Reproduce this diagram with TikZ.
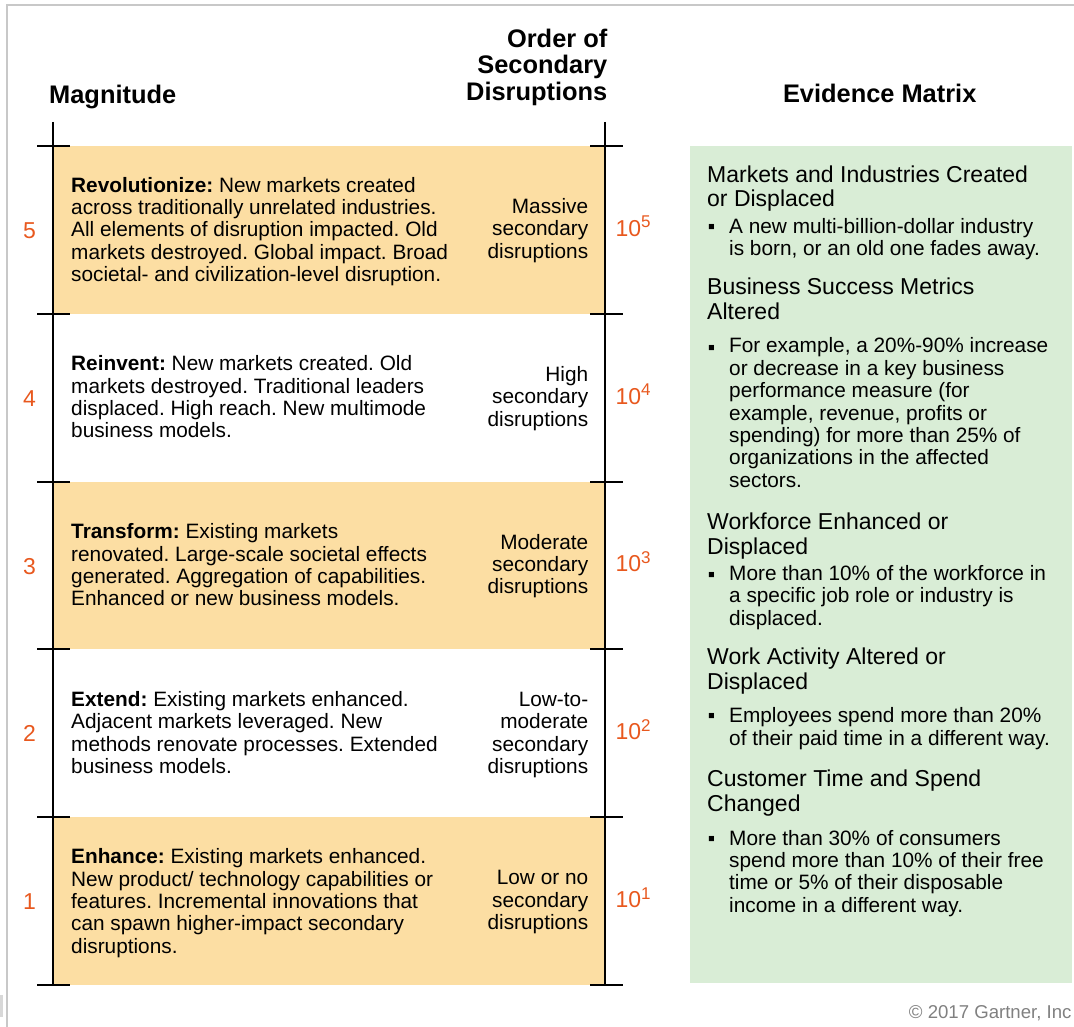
\documentclass[tikz,border=0pt]{standalone}
\usepackage{fontspec}
\setmainfont{Liberation Sans}
\usepackage{tikz}
\usetikzlibrary{positioning}
\usetikzlibrary{calc}
\definecolor{gorange}{RGB}{252,222,163}
\definecolor{ggreen}{RGB}{217,237,214}
\definecolor{gnum}{RGB}{232,88,30}
\definecolor{gframe}{RGB}{200,200,200}
\definecolor{gcopy}{RGB}{128,128,128}
\newcommand{\powten}[1]{10\raisebox{8.3pt}{\fontsize{17pt}{17pt}\selectfont #1}}
\frenchspacing

\begin{document}
\begin{tikzpicture}[x=1pt, y=-1pt,
    band/.style={minimum width=552pt, minimum height=167.4pt, inner sep=0pt, anchor=north west},
    hiband/.style={band, fill=gorange},
    evidence/.style={fill=ggreen, minimum width=382pt, minimum height=837pt, inner sep=0pt, anchor=north west},
    desc/.style={font=\fontsize{20.8pt}{22.4pt}\selectfont, align=left, anchor=base west, inner sep=0pt},
    order/.style={desc, align=right, anchor=base east},
    level/.style={font=\fontsize{23pt}{24pt}\selectfont, text=gnum, inner sep=0pt},
    title/.style={font=\fontsize{25.4pt}{26.7pt}\selectfont\bfseries, inner sep=0pt},
    evhead/.style={font=\fontsize{23pt}{24.6pt}\selectfont, align=left, anchor=base west, inner sep=0pt},
    evitem/.style={desc},
    axis/.style={line width=2pt},
]
\useasboundingbox (0,0) rectangle (1074,1027);
\draw[gframe, line width=1.5pt] (7,1027) -- (7,5) -- (1074,5);
\fill[gframe!70] (0,995) rectangle (3,1017);

% bands of the scale
\node[hiband] (b5) at (53,146) {};
\node[band, below=0pt of b5] (b4) {};
\node[hiband, below=0pt of b4] (b3) {};
\node[band, below=0pt of b3] (b2) {};
\node[hiband, below=0pt of b2] (b1) {};
\node[evidence] (evid) at (690,146) {};

% column titles (multi-line nodes sit on their last baseline)
\node[title, anchor=base west] (magnitude) at (49,103.3) {Magnitude};
\node[title, align=right, anchor=base east] (ordertitle) at (607.5,100.7) {Order of\\Secondary\\Disruptions};
\node[title, anchor=base] (evtitle) at (879.7,102.7) {Evidence Matrix};

% the two axes with their ticks
\draw[axis] ([yshift=24pt]b5.north west) -- (b1.south west);
\draw[axis] ([yshift=24pt]b5.north east) -- (b1.south east);
\draw[axis] ([xshift=-16pt]b5.north west) -- ([xshift=17pt]b5.north west);
\draw[axis] ([xshift=-16pt]b4.north west) -- ([xshift=17pt]b4.north west);
\draw[axis] ([xshift=-16pt]b3.north west) -- ([xshift=17pt]b3.north west);
\draw[axis] ([xshift=-16pt]b2.north west) -- ([xshift=17pt]b2.north west);
\draw[axis] ([xshift=-16pt]b1.north west) -- ([xshift=17pt]b1.north west);
\draw[axis] ([xshift=-16pt]b1.south west) -- ([xshift=17pt]b1.south west);
\draw[axis] ([xshift=-15pt]b5.north east) -- ([xshift=18pt]b5.north east);
\draw[axis] ([xshift=-15pt]b4.north east) -- ([xshift=18pt]b4.north east);
\draw[axis] ([xshift=-15pt]b3.north east) -- ([xshift=18pt]b3.north east);
\draw[axis] ([xshift=-15pt]b2.north east) -- ([xshift=18pt]b2.north east);
\draw[axis] ([xshift=-15pt]b1.north east) -- ([xshift=18pt]b1.north east);
\draw[axis] ([xshift=-15pt]b1.south east) -- ([xshift=18pt]b1.south east);

% magnitude levels
\node[level, anchor=base] (l5) at ($(b5.west)+(-23.6,8.6)$) {5};
\node[level, anchor=base] (l4) at ($(b4.west)+(-23.6,8.6)$) {4};
\node[level, anchor=base] (l3) at ($(b3.west)+(-23.6,8.6)$) {3};
\node[level, anchor=base] (l2) at ($(b2.west)+(-23.6,8.6)$) {2};
\node[level, anchor=base] (l1) at ($(b1.west)+(-23.6,8.6)$) {1};

\node[desc] (t5) at ($(b5.west)+(18,51.8)$) {\textbf{Revolutionize:} New markets created\\across traditionally unrelated industries.\\All elements of disruption impacted. Old\\markets destroyed. Global impact. Broad\\societal- and civilization-level disruption.};
\node[desc] (t4) at ($(b4.west)+(18,40.2)$) {\textbf{Reinvent:} New markets created. Old\\markets destroyed. Traditional leaders\\displaced. High reach. New multimode\\business models.};
\node[desc] (t3) at ($(b3.west)+(18,40.4)$) {\textbf{Transform:} Existing markets\\renovated. Large-scale societal effects\\generated. Aggregation of capabilities.\\Enhanced or new business models.};
\node[desc] (t2) at ($(b2.west)+(18,40.4)$) {\textbf{Extend:} Existing markets enhanced.\\Adjacent markets leveraged. New\\methods renovate processes. Extended\\business models.};
\node[desc] (t1) at ($(b1.west)+(18,52.2)$) {\textbf{Enhance:} Existing markets enhanced.\\New product/ technology capabilities or\\features. Incremental innovations that\\can spawn higher-impact secondary\\disruptions.};

% order of secondary disruptions
\node[order] (o5) at ($(b5.east)+(-17,28.4)$) {Massive\\secondary\\disruptions};
\node[order] (o4) at ($(b4.east)+(-17,28.4)$) {High\\secondary\\disruptions};
\node[order] (o3) at ($(b3.east)+(-17,28.4)$) {Moderate\\secondary\\disruptions};
\node[order] (o2) at ($(b2.east)+(-17,40.4)$) {Low-to-\\moderate\\secondary\\disruptions};
\node[order] (o1) at ($(b1.east)+(-17,28.4)$) {Low or no\\secondary\\disruptions};

\node[level, anchor=base west] (p5) at ($(b5.east)+(10,6.3)$) {\powten{5}};
\node[level, anchor=base west] (p4) at ($(b4.east)+(10,6.3)$) {\powten{4}};
\node[level, anchor=base west] (p3) at ($(b3.east)+(10,6.3)$) {\powten{3}};
\node[level, anchor=base west] (p2) at ($(b2.east)+(10,6.3)$) {\powten{2}};
\node[level, anchor=base west] (p1) at ($(b1.east)+(10,6.3)$) {\powten{1}};

% evidence matrix
\node[evhead] (h1) at (707,206.7) {Markets and Industries Created\\or Displaced};
\node[evitem, anchor=base] (m1) at (711.5,233.3) {▪};
\node[evitem] (e1) at (729,256) {A new multi-billion-dollar industry\\is born, or an old one fades away.};
\node[evhead] (h2) at (707,319.3) {Business Success Metrics\\Altered};
\node[evitem, anchor=base] (m2) at (711.5,354) {▪};
\node[evitem] (e2) at (729,487.3) {For example, a 20\%-90\% increase\\or decrease in a key business\\performance measure (for\\example, revenue, profits or\\spending) for more than 25\% of\\organizations in the affected\\sectors.};
\node[evhead] (h3) at (707,554.3) {Workforce Enhanced or\\Displaced};
\node[evitem, anchor=base] (m3) at (711.5,581) {▪};
\node[evitem] (e3) at (729,625) {More than 10\% of the workforce in\\a specific job role or industry is\\displaced.};
\node[evhead] (h4) at (707,689.3) {Work Activity Altered or\\Displaced};
\node[evitem, anchor=base] (m4) at (711.5,722.7) {▪};
\node[evitem] (e4) at (729,745) {Employees spend more than 20\%\\of their paid time in a different way.};
\node[evhead] (h5) at (707,811) {Customer Time and Spend\\Changed};
\node[evitem, anchor=base] (m5) at (711.5,845.7) {▪};
\node[evitem] (e5) at (729,912.3) {More than 30\% of consumers\\spend more than 10\% of their free\\time or 5\% of their disposable\\income in a different way.};

\node[font=\fontsize{18.6pt}{20pt}\selectfont, text=gcopy, anchor=base east, inner sep=0pt] (copyright) at (1071.7,1018.3) {© 2017 Gartner, Inc};
\end{tikzpicture}
\end{document}
